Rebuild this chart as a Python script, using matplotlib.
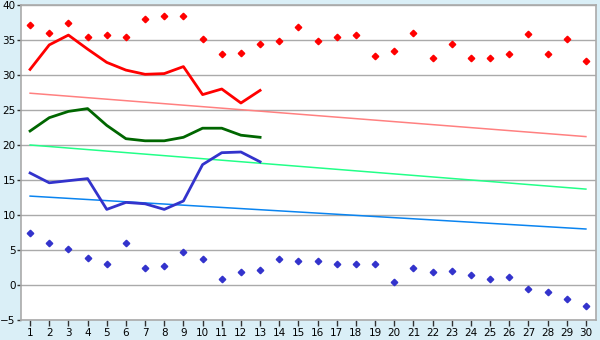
import numpy as np
import matplotlib
matplotlib.use('Agg')
import matplotlib.pyplot as plt

days = list(range(1, 31))

# daily extremes (diamonds)
max_temp = [37.2, 36.0, 37.5, 35.5, 35.7, 35.5, 38.0, 38.5, 38.5, 35.2,
            33.0, 33.2, 34.4, 34.8, 36.8, 34.8, 35.4, 35.7, 32.7, 33.5,
            36.0, 32.5, 34.4, 32.4, 32.5, 33.0, 35.8, 33.0, 35.2, 32.0]
min_temp = [7.4, 6.0, 5.1, 3.8, 3.0, 6.0, 2.5, 2.7, 4.7, 3.7,
            0.8, 1.8, 2.1, 3.7, 3.4, 3.4, 3.0, 3.0, 3.0, 0.4,
            2.4, 1.8, 2.0, 1.4, 0.8, 1.1, -0.6, -1.0, -2.0, -3.0]

# first 13 days lines
line_days = list(range(1, 14))
red_line = [30.8, 34.3, 35.7, 33.7, 31.8, 30.7, 30.1, 30.2, 31.2, 27.2, 28.0, 26.0, 27.8]
green_line = [22.0, 23.9, 24.8, 25.2, 22.8, 20.9, 20.6, 20.6, 21.1, 22.4, 22.4, 21.4, 21.1]
blue_line = [16.0, 14.6, 14.9, 15.2, 10.8, 11.8, 11.6, 10.8, 12.0, 17.2, 18.9, 19.0, 17.6]

# normal (trend) lines, start and end
norm_days = [1, 30]
norm_max = [27.4, 21.2]
norm_mean = [20.0, 13.7]
norm_min = [12.7, 8.0]

bg = '#DAEFF7'
fig = plt.figure(figsize=(6, 3.4), dpi=100, facecolor=bg)
ax = fig.add_axes([20.5 / 600, 20 / 340, 575 / 600, 315 / 340])
ax.set_facecolor('white')

ax.set_xlim(0.5, 30.5)
ax.set_ylim(-5, 40)
ax.set_yticks(np.arange(-5, 41, 5))
ax.set_xticks(days)
ax.grid(axis='y', color='#AAAAAA', linewidth=1)
ax.set_axisbelow(True)

for s in ax.spines.values():
    s.set_color('#AAAAAA')
    s.set_linewidth(1.2)

ax.tick_params(axis='both', colors='#333333', labelsize=7.5, length=4, width=1,
               labelcolor='black')
ax.tick_params(axis='x', pad=2)
ax.tick_params(axis='y', pad=0.5, length=3)

ax.plot(norm_days, norm_max, color='#FF8080', linewidth=1.1)
ax.plot(norm_days, norm_mean, color='#22FF88', linewidth=1.1)
ax.plot(norm_days, norm_min, color='#0A84F0', linewidth=1.1)

ax.plot(line_days, red_line, color='#FF0000', linewidth=2)
ax.plot(line_days, green_line, color='#006600', linewidth=2)
ax.plot(line_days, blue_line, color='#3333CC', linewidth=2)

ax.plot(days, max_temp, linestyle='none', marker='D', markersize=3.3,
        color='#FF0000')
ax.plot(days, min_temp, linestyle='none', marker='D', markersize=3.3,
        color='#3333CC')

fig.savefig('out.png', dpi=100, facecolor=bg)
